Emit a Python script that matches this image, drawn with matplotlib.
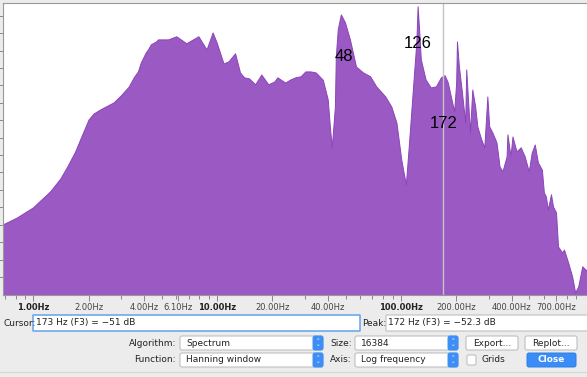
import matplotlib
matplotlib.use("Agg")
import matplotlib.pyplot as plt
from matplotlib.patches import FancyBboxPatch
from matplotlib.ticker import FixedLocator, NullFormatter

# Spectrum envelope (Hz, dB)
freq = [0.684, 0.817, 1.0, 1.24, 1.41, 1.54, 1.70, 1.81, 2.01, 2.14, 2.33, 2.75,
        3.01, 3.33, 3.54, 3.73, 3.87, 4.12, 4.23, 4.39, 4.68, 4.80, 5.05, 5.45,
        6.03, 6.84, 7.96, 8.81, 9.51, 10.0, 10.9,
        11.6, 12.6, 13.4, 14.1, 15.0, 16.2, 17.5, 19.1, 20.6, 21.4, 23.6, 25.2,
        26.8, 28.6, 30.4, 32.4, 34.6, 37.8, 40.2, 41.3, 42.3, 44.0, 44.5, 45.6,
        47.4, 49.9, 53.1, 57.3, 62.6, 68.4, 73.8, 82.7, 89.2, 95.1, 101, 107,
        111, 115, 119, 122, 124, 127, 129, 137, 146, 156, 166, 174, 181, 188,
        196, 201, 203, 208, 216, 225, 228, 233, 239, 246, 255, 262, 275, 286,
        297, 304, 316, 333, 346, 359, 378, 382, 397, 407, 428, 451, 474, 499,
        518, 538, 559, 588, 603, 618, 634, 659, 676, 702, 720, 757, 776, 817,
        859, 892, 927, 975, 1040, 1107]
level = [-95.1, -93.1, -90.2, -85.6, -81.9, -78.4, -74.1, -70.6, -64.9, -63.2, -62.0, -60.0,
         -58.0, -55.4, -52.8, -51.1, -48.5, -45.6, -44.8, -43.3, -42.5, -41.9, -41.9, -41.9,
         -41.0, -43.0, -41.0, -44.8, -39.9, -42.8, -48.8,
         -48.2, -45.9, -51.4, -52.8, -53.1, -54.8, -52.0, -54.8, -54.0, -52.8, -54.3, -53.4,
         -52.8, -52.5, -51.1, -51.1, -51.4, -53.5, -59.1, -66.9, -72.9, -61.2, -46.8, -39.0,
         -34.7, -37.0, -41.9, -49.7, -51.4, -52.5, -55.4, -58.3, -61.2, -65.8, -76.4, -83.6,
         -72.6, -61.2, -50.5, -42.8, -32.4, -41.0, -47.6, -53.4, -55.7, -55.4, -52.8, -52.2,
         -54.3, -58.3, -62.6, -54.3, -42.5, -49.7, -57.1, -65.8, -50.5, -59.1, -68.6, -56.3,
         -61.2, -66.9, -70.6, -72.9, -58.3, -66.9, -68.6, -71.5, -78.4, -79.8, -75.5, -69.2,
         -75.5, -69.8, -74.1, -72.9, -75.5, -79.8, -74.4, -72.1, -77.2, -79.3, -85.9, -87.0,
         -90.8, -86.4, -89.9, -91.6, -101.4, -103.1, -102.3, -106.0, -110.0, -114.6, -112.9,
         -107.1, -108.6, -108.6]

# labelled peaks
peak_labels = ["48", "126", "172"]
peak_freq = [49.2, 124, 170]
peak_db = [-46.8, -42.8, -66.0]

cursor_hz = 170

tick_pos = [1, 2, 4, 6.1, 10, 20, 40, 100, 200, 400, 700]
tick_text = ["1.00Hz", "2.00Hz", "4.00Hz", "6.10Hz", "10.00Hz", "20.00Hz",
             "40.00Hz", "100.00Hz", "200.00Hz", "400.00Hz", "700.00Hz"]
minor_pos = [m * d for d in (0.1, 1, 10, 100) for m in range(2, 10)]
db_ticks = list(range(-110, -34, 5))

W, H = 587, 377
fig = plt.figure(figsize=(W / 100, H / 100), dpi=100, facecolor="#ececec")

# chart
ax = fig.add_axes([3 / W, 1 - 295 / H, 1 - 3 / W + 0.01, (295 - 3) / H])
ax.set_facecolor("white")
ax.set_zorder(2)
ax.fill_between(freq, level, -130, color="#9b59c3", lw=0)
ax.plot(freq, level, color="#8a45b8", lw=0.7)
ax.axvline(cursor_hz, color="#c4c4c4", lw=1)
for t, f, d in zip(peak_labels, peak_freq, peak_db):
    ax.text(f, d, t, fontsize=12, family="Liberation Sans", ha="center", va="center")

ax.set_xscale("log")
ax.set_xlim(0.684, 1107)
ax.set_ylim(-115.2, -31.3)
ax.xaxis.set_major_locator(FixedLocator(tick_pos))
ax.xaxis.set_minor_locator(FixedLocator(minor_pos))
ax.xaxis.set_minor_formatter(NullFormatter())
ax.set_xticklabels(tick_text)
ax.set_yticks(db_ticks)
ax.set_yticklabels([])
ax.tick_params(axis="x", which="major", length=4, width=0.7, color="#888888",
               labelsize=6, labelcolor="#444444", pad=2)
ax.tick_params(axis="x", which="minor", length=3, width=0.7, color="#888888")
ax.tick_params(axis="y", length=3, width=0.7, color="#888888")
for lab, p in zip(ax.get_xticklabels(), tick_pos):
    if p in (1, 10, 100):
        lab.set_fontweight("bold")
        lab.set_color("#222222")
for s in ("left", "bottom", "top"):
    ax.spines[s].set_color("#999999")
    ax.spines[s].set_linewidth(0.8)
ax.spines["right"].set_visible(False)

# dialog controls drawn in pixel space
ui = fig.add_axes([0, 0, 1, 1])
ui.set_zorder(1)
ui.set_xlim(0, W)
ui.set_ylim(H, 0)
ui.axis("off")

def box(x0, y0, x1, y1, fc="white", ec="#b8b8b8", lw=0.7, r=2):
    ui.add_patch(FancyBboxPatch((x0, y0), x1 - x0, y1 - y0,
                                boxstyle="round,pad=0,rounding_size=%s" % r,
                                fc=fc, ec=ec, lw=lw))

def label(x, y, s, ha="left", **kw):
    kw.setdefault("fontsize", 6.5)
    kw.setdefault("color", "#222222")
    ui.text(x, y, s, ha=ha, va="center", family="DejaVu Sans", **kw)

def popup(x0, x1, y, s):
    box(x0, y - 7, x1, y + 7)
    box(x1 - 10, y - 7, x1, y + 7, fc="#3d8ef7", ec="#3d8ef7")
    ui.text(x1 - 5, y, "\u2303\n\u2304", color="white", fontsize=4, ha="center",
            va="center", linespacing=0.6, family="DejaVu Sans")
    label(x0 + 6, y, s)

# cursor / peak readouts
label(3, 323, "Cursor:")
box(33, 315, 360, 331, ec="#6fa8ef", lw=1.2, r=0.5)
label(36, 323, "173 Hz (F3) = \u221251 dB")
label(362, 323, "Peak:")
box(386, 315, 600, 331, ec="#b8b8b8", r=0.5)
label(388, 323, "172 Hz (F3) = \u221252.3 dB")

label(176, 343, "Algorithm:", ha="right")
popup(180, 323, 343, "Spectrum")
label(352, 343, "Size:", ha="right")
popup(355, 458, 343, "16384")
box(466, 336, 518, 350)
label(492, 343, "Export...", ha="center")
box(525, 336, 577, 350)
label(551, 343, "Replot...", ha="center")

label(176, 360, "Function:", ha="right")
popup(180, 323, 360, "Hanning window")
label(352, 360, "Axis:", ha="right")
popup(355, 458, 360, "Log frequency")
box(467, 355, 476, 365, r=1.5)
label(481, 360, "Grids")
box(527, 353, 576, 367, fc="#3a8cf6", ec="#2f7ee6")
label(551.5, 360, "Close", ha="center", color="white", fontweight="bold")

ui.plot([0, W], [372, 372], color="#d6d6d6", lw=0.8)

fig.savefig("out.png", dpi=100, facecolor=fig.get_facecolor())
